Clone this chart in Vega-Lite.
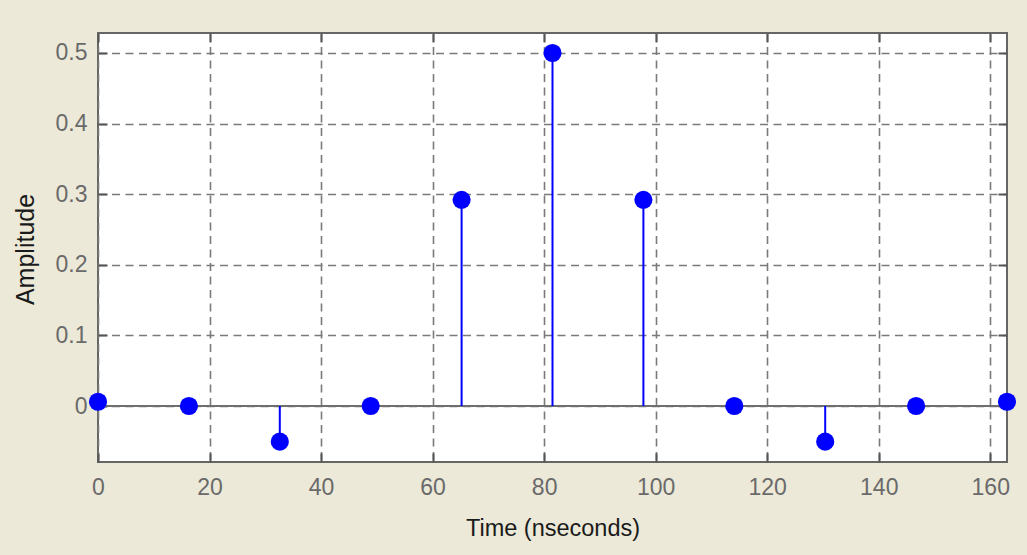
{
  "$schema": "https://vega.github.io/schema/vega-lite/v6.json",
  "width": 909,
  "height": 429,
  "autosize": {"type": "none"},
  "padding": {"left": 98, "top": 33, "right": 20, "bottom": 93},
  "background": "#ECE9D8",
  "view": {"fill": "white", "stroke": "#666666", "strokeWidth": 2},
  "config": {
    "font": "Liberation Sans",
    "axis": {
      "domain": false,
      "labelFont": "Liberation Sans",
      "titleFont": "Liberation Sans",
      "labelColor": "#6a6a6a",
      "titleColor": "#1a1a1a",
      "titleFontWeight": "normal",
      "labelFlush": false,
      "labelOverlap": false,
      "tickColor": "#555555",
      "tickWidth": 2,
      "tickSize": -9,
      "gridColor": "#7a7a7a",
      "gridWidth": 1.6,
      "gridDash": [8, 5.5],
      "gridOpacity": 1
    }
  },
  "data": {
    "values": [
      {"t": 0, "amp": 0.006},
      {"t": 16.3, "amp": 0},
      {"t": 32.6, "amp": -0.0505},
      {"t": 48.9, "amp": 0},
      {"t": 65.2, "amp": 0.292},
      {"t": 81.5, "amp": 0.5},
      {"t": 97.8, "amp": 0.292},
      {"t": 114.1, "amp": 0},
      {"t": 130.4, "amp": -0.0505},
      {"t": 146.7, "amp": 0},
      {"t": 163, "amp": 0.006}
    ]
  },
  "resolve": {"axis": {"x": "independent", "y": "independent"}},
  "layer": [
    {
      "mark": {"type": "rule", "color": "#6f6f6f", "strokeWidth": 2.2},
      "encoding": {"y": {"datum": 0, "type": "quantitative", "scale": {"domain": [-0.0793, 0.5283], "nice": false, "zero": false}, "axis": null}}
    },
    {
      "mark": {"type": "rule", "color": "#0000ff", "strokeWidth": 2},
      "encoding": {
        "x": {
          "field": "t", "type": "quantitative",
          "scale": {"domain": [0, 163], "nice": false, "zero": false},
          "axis": {
            "orient": "bottom",
            "values": [0, 20, 40, 60, 80, 100, 120, 140, 160],
            "format": "d",
            "labelFontSize": 23,
            "labelPadding": 23,
            "title": "Time (nseconds)",
            "titleFontSize": 23.5,
            "titleBaseline": "alphabetic",
            "titleY": 73,
            "grid": true
          }
        },
        "y": {
          "field": "amp", "type": "quantitative",
          "scale": {"domain": [-0.0793, 0.5283], "nice": false, "zero": false},
          "axis": {
            "orient": "left",
            "values": [0, 0.1, 0.2, 0.3, 0.4, 0.5],
            "format": ".1~f",
            "labelFontSize": 23,
            "labelPadding": 20,
            "title": "Amplitude",
            "titleFontSize": 25,
            "titleAngle": -90,
            "titleX": -73,
            "titleY": 216,
            "titleAlign": "center",
            "titleBaseline": "middle",
            "grid": true
          }
        },
        "y2": {"datum": 0}
      }
    },
    {
      "mark": {"type": "point", "filled": true, "color": "#0000ff", "opacity": 1, "size": 330},
      "encoding": {
        "x": {
          "field": "t", "type": "quantitative",
          "axis": {"orient": "top", "values": [0, 20, 40, 60, 80, 100, 120, 140, 160], "labels": false, "title": null, "grid": false}
        },
        "y": {
          "field": "amp", "type": "quantitative",
          "axis": {"orient": "right", "values": [0, 0.1, 0.2, 0.3, 0.4, 0.5], "labels": false, "title": null, "grid": false}
        }
      }
    }
  ]
}
